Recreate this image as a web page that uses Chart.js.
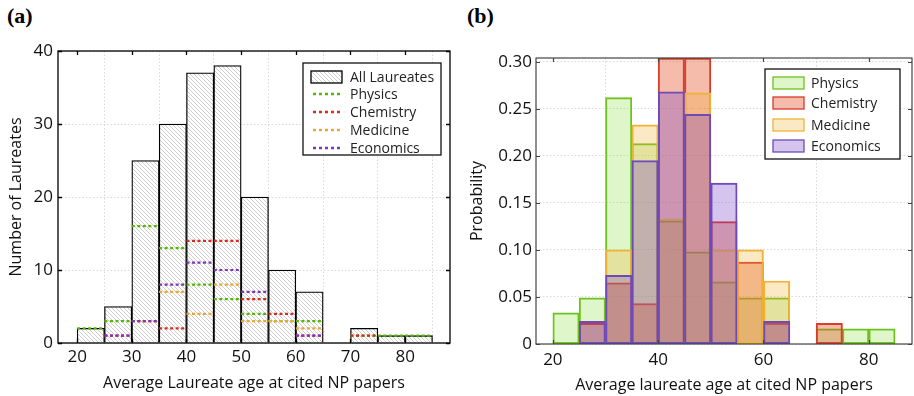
<!DOCTYPE html>
<html>
<head>
<meta charset="utf-8">
<script src="https://cdn.jsdelivr.net/npm/chart.js@4.4.0/dist/chart.umd.min.js"></script>
<style>
    body { margin: 0; background: #fff; width: 914px; height: 396px; overflow: hidden; position: relative; }
    canvas { position: absolute; top: 0; }
    .tag { position: absolute; top: 3px; font: bold 22px 'Liberation Serif', serif; color: #000; }
</style>
</head>
<body>
<div class="tag" style="left:7px">(a)</div>
<div class="tag" style="left:467px">(b)</div>
<canvas id="chartA" width="460" height="396" style="left:0"></canvas>
<canvas id="chartB" width="454" height="396" style="left:460px"></canvas>
<script>
// bins of 5 years, 20..85
var binEdges = [20, 25, 30, 35, 40, 45, 50, 55, 60, 65, 70, 75, 80, 85];
var binCenters = [22.5, 27.5, 32.5, 37.5, 42.5, 47.5, 52.5, 57.5, 62.5, 67.5, 72.5, 77.5, 82.5];

// (a) counts
var allLaureates = [2, 5, 25, 30, 37, 38, 20, 10, 7, 0, 2, 1, 1];
var physicsCount = [2, 3, 16, 13, 8, 6, 4, 3, 3, 0, 1, 1, 1];
var chemistryCount = [0, 1, 3, 2, 14, 14, 6, 4, 1, 0, 1, 0, 0];
var medicineCount = [0, 0, 3, 7, 4, 8, 3, 3, 2, 0, 0, 0, 0];
var economicsCount = [0, 1, 3, 8, 11, 10, 7, 0, 1, 0, 0, 0, 0];

// (b) probabilities
var physicsProb = [0.033, 0.049, 0.262, 0.213, 0.131, 0.098, 0.066, 0.049, 0.049, 0, 0.016, 0.016, 0.016];
var chemistryProb = [0, 0.022, 0.065, 0.043, 0.304, 0.304, 0.130, 0.087, 0.022, 0, 0.022, 0, 0];
var medicineProb = [0, 0, 0.100, 0.233, 0.133, 0.267, 0.100, 0.100, 0.067, 0, 0, 0, 0];
var economicsProb = [0, 0.024, 0.073, 0.195, 0.268, 0.244, 0.171, 0, 0.024, 0, 0, 0, 0];

var xTicksA = [20, 30, 40, 50, 60, 70, 80];
var yTicksA = [0, 10, 20, 30, 40];
var xTicksB = [20, 40, 60, 80];
var yTicksB = [0, 0.05, 0.10, 0.15, 0.20, 0.25, 0.30];

var FONT = "'Open Sans', sans-serif";
var colors = {
    physics: '#55b800', chemistry: '#d92a1f', medicine: '#eba62c', economics: '#8034b8'
};

function hatchPattern(ctx) {
    var n = 4;
    var c = document.createElement('canvas');
    c.width = n; c.height = n;
    var g = c.getContext('2d');
    g.fillStyle = '#fff';
    g.fillRect(0, 0, n, n);
    g.strokeStyle = '#a6a6a6';
    g.lineWidth = 0.55;
    g.beginPath();
    g.moveTo(-1, -1); g.lineTo(n + 1, n + 1);
    g.moveTo(-n - 1, -1); g.lineTo(1, n + 1);
    g.moveTo(n - 1, -1); g.lineTo(2 * n + 1, n + 1);
    g.stroke();
    return ctx.createPattern(c, 'repeat');
}

function points(values) {
    return values.map(function (v, i) { return { x: binCenters[i], y: v }; });
}

// horizontal segment per bin, broken by nulls
function segments(values) {
    var pts = [];
    values.forEach(function (v, i) {
        if (!v) return;
        pts.push({ x: binEdges[i], y: v }, { x: binEdges[i + 1], y: v }, { x: binEdges[i + 1], y: null });
    });
    return pts;
}

function fixedTicks(list) {
    return function (scale) {
        scale.ticks = list.map(function (v) { return { value: v }; });
    };
}

var framePlugin = {
    id: 'frame',
    afterDatasetsDraw: function (chart, args, opts) {
        var a = chart.chartArea, ctx = chart.ctx;
        var xs = chart.scales.x, ys = chart.scales.y;
        ctx.save();
        ctx.strokeStyle = opts.color;
        ctx.lineWidth = opts.width;
        ctx.strokeRect(a.left, a.top, a.right - a.left, a.bottom - a.top);
        ctx.beginPath();
        xs.ticks.forEach(function (t) {
            var px = Math.round(xs.getPixelForValue(t.value)) + 0.5;
            ctx.moveTo(px, a.bottom); ctx.lineTo(px, a.bottom - 4);
            ctx.moveTo(px, a.top); ctx.lineTo(px, a.top + 4);
        });
        ys.ticks.forEach(function (t) {
            var py = Math.round(ys.getPixelForValue(t.value)) + 0.5;
            ctx.moveTo(a.left, py); ctx.lineTo(a.left + 4, py);
            ctx.moveTo(a.right, py); ctx.lineTo(a.right - 4, py);
        });
        ctx.stroke();
        ctx.restore();
    }
};

var boxLegend = {
    id: 'boxLegend',
    afterDraw: function (chart, args, opts) {
        var ctx = chart.ctx, b = opts.box;
        ctx.save();
        ctx.fillStyle = '#fff';
        ctx.fillRect(b.x, b.y, b.w, b.h);
        ctx.strokeStyle = '#111';
        ctx.lineWidth = 1.3;
        ctx.strokeRect(b.x, b.y, b.w, b.h);
        ctx.font = '14px ' + FONT;
        ctx.textBaseline = 'middle';
        opts.rows.forEach(function (r) {
            if (r.kind === 'line') {
                ctx.strokeStyle = r.color;
                ctx.lineWidth = 2.4;
                ctx.setLineDash([3, 3]);
                ctx.beginPath();
                ctx.moveTo(b.x + 10, r.y); ctx.lineTo(b.x + 37, r.y);
                ctx.stroke();
                ctx.setLineDash([]);
            } else {
                ctx.fillStyle = r.fill;
                ctx.fillRect(b.x + 8, r.y - 6, 31, 12);
                ctx.strokeStyle = r.color;
                ctx.lineWidth = r.lw || 1.3;
                ctx.strokeRect(b.x + 8, r.y - 6, 31, 12);
            }
            ctx.fillStyle = '#222';
            ctx.fillText(r.text, b.x + opts.textX, r.y + 1);
        });
        ctx.restore();
    }
};

function axisFont(size) { return { family: FONT, size: size }; }

// ---------- (a) ----------
var ctxA = document.getElementById('chartA').getContext('2d');
var hatch = hatchPattern(ctxA);

function dashed(label, values, color, order) {
    return {
        type: 'line', label: label, data: segments(values),
        borderColor: color, borderWidth: 2.2, borderDash: [3, 2.5],
        pointRadius: 0, spanGaps: false, order: order
    };
}

new Chart(ctxA, {
    type: 'bar',
    data: {
        datasets: [
            {
                label: 'All Laureates', data: points(allLaureates),
                backgroundColor: hatch, borderColor: '#000', borderWidth: 1.3,
                barPercentage: 1, categoryPercentage: 1, order: 10
            },
            dashed('Physics', physicsCount, colors.physics, 4),
            dashed('Chemistry', chemistryCount, colors.chemistry, 3),
            dashed('Medicine', medicineCount, colors.medicine, 2),
            dashed('Economics', economicsCount, colors.economics, 1)
        ]
    },
    options: {
        responsive: false,
        animation: false,
        devicePixelRatio: 1,
        layout: { padding: { left: 0, top: 51, right: 10, bottom: 0 } },
        plugins: {
            legend: { display: false },
            tooltip: { enabled: false },
            frame: { color: '#000', width: 1.3 },
            boxLegend: {
                box: { x: 303, y: 63, w: 138, h: 92 },
                textX: 47,
                rows: [
                    { kind: 'box', text: 'All Laureates', y: 77, fill: hatch, color: '#000' },
                    { kind: 'line', text: 'Physics', y: 94, color: colors.physics },
                    { kind: 'line', text: 'Chemistry', y: 112, color: colors.chemistry },
                    { kind: 'line', text: 'Medicine', y: 130, color: colors.medicine },
                    { kind: 'line', text: 'Economics', y: 148, color: colors.economics }
                ]
            }
        },
        scales: {
            x: {
                type: 'linear', min: 16.5, max: 88.2, offset: false,
                afterBuildTicks: fixedTicks(xTicksA),
                afterFit: function (s) { s.height = 53; },
                grid: { color: '#cfcfcf', lineWidth: 0.8, drawTicks: false },
                border: { display: false, dash: [1.5, 2] },
                ticks: { color: '#111', font: axisFont(17), padding: 4, maxRotation: 0 },
                title: { display: true, text: 'Average Laureate age at cited NP papers', color: '#111', font: axisFont(16), padding: { top: 0, bottom: 3 } }
            },
            y: {
                min: 0, max: 40,
                afterBuildTicks: fixedTicks(yTicksA),
                afterFit: function (s) { s.width = 58; },
                grid: { color: '#cfcfcf', lineWidth: 0.8, drawTicks: false },
                border: { display: false, dash: [1.5, 2] },
                ticks: { color: '#111', font: axisFont(17), padding: 5 },
                title: { display: true, text: 'Number of Laureates', color: '#111', font: axisFont(16), padding: { top: 7, bottom: 0 } }
            }
        }
    },
    plugins: [framePlugin, boxLegend]
});

// ---------- (b) ----------
var ctxB = document.getElementById('chartB').getContext('2d');
var fillB = {
    physics: 'rgba(125, 220, 45, 0.25)',
    chemistry: 'rgba(230, 75, 35, 0.38)',
    medicine: 'rgba(240, 170, 40, 0.27)',
    economics: 'rgba(120, 65, 200, 0.31)'
};
var edgeB = {
    physics: '#6cc21c', chemistry: '#d83a2c', medicine: '#efb437', economics: '#6d4cb8'
};

function prob(label, values, key, order) {
    return {
        label: label, data: points(values),
        backgroundColor: fillB[key], borderColor: edgeB[key], borderWidth: 1.3,
        borderSkipped: false, barPercentage: 1, categoryPercentage: 1, grouped: false, order: order
    };
}

new Chart(ctxB, {
    type: 'bar',
    data: {
        datasets: [
            prob('Physics', physicsProb, 'physics', 4),
            prob('Chemistry', chemistryProb, 'chemistry', 3),
            prob('Medicine', medicineProb, 'medicine', 2),
            prob('Economics', economicsProb, 'economics', 1)
        ]
    },
    options: {
        responsive: false,
        animation: false,
        devicePixelRatio: 1,
        layout: { padding: { left: 0, top: 58, right: 2, bottom: 0 } },
        plugins: {
            legend: { display: false },
            tooltip: { enabled: false },
            frame: { color: '#444', width: 1.2 },
            boxLegend: {
                box: { x: 305, y: 69, w: 135, h: 90 },
                textX: 46,
                rows: [
                    { kind: 'box', text: 'Physics', y: 83, fill: fillB.physics, color: edgeB.physics },
                    { kind: 'box', text: 'Chemistry', y: 103, fill: fillB.chemistry, color: edgeB.chemistry },
                    { kind: 'box', text: 'Medicine', y: 125, fill: fillB.medicine, color: edgeB.medicine },
                    { kind: 'box', text: 'Economics', y: 146, fill: fillB.economics, color: edgeB.economics }
                ]
            }
        },
        scales: {
            x: {
                type: 'linear', min: 16.8, max: 88.2, offset: false,
                afterBuildTicks: fixedTicks(xTicksB),
                afterFit: function (s) { s.height = 52; },
                grid: { color: '#cfcfcf', lineWidth: 0.8, drawTicks: false },
                border: { display: false, dash: [1.5, 2] },
                ticks: { color: '#111', font: axisFont(17), padding: 6, maxRotation: 0 },
                title: { display: true, text: 'Average laureate age at cited NP papers', color: '#111', font: axisFont(16), padding: { top: 0, bottom: 1 } }
            },
            y: {
                min: 0, max: 0.304,
                afterBuildTicks: fixedTicks(yTicksB),
                afterFit: function (s) { s.width = 76; },
                grid: { color: '#cfcfcf', lineWidth: 0.8, drawTicks: false },
                border: { display: false, dash: [1.5, 2] },
                ticks: {
                    color: '#111', font: axisFont(17), padding: 4,
                    callback: function (v) { return v === 0 ? '0' : v.toFixed(2); }
                },
                title: { display: true, text: 'Probability', color: '#111', font: axisFont(16), padding: { top: 8, bottom: 0 } }
            }
        }
    },
    plugins: [framePlugin, boxLegend]
});
</script>
</body>
</html>
